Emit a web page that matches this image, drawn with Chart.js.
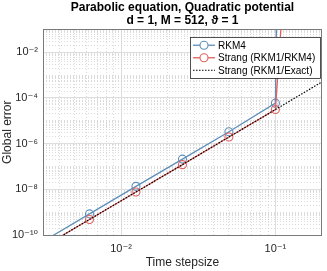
<!DOCTYPE html>
<html>
<head>
<meta charset="utf-8">
<script src="https://cdn.jsdelivr.net/npm/chart.js@4.4.0/dist/chart.umd.min.js"></script>
<style>
html, body { margin: 0; padding: 0; background: #fff; }
#wrap { width: 327px; height: 271px; }
</style>
</head>
<body>
<div id="wrap"><canvas id="errChart" width="327" height="271"></canvas></div>
<script>
// time step sizes and global errors
var steps = [0.003125, 0.00625, 0.0125, 0.025, 0.05, 0.1, 0.2];
var rkm4 = [5.2e-11, 8.4e-10, 1.35e-8, 2.1e-7, 3.3e-6, 5.9e-5, 1e150];
var strangRkm4 = [3.0e-11, 4.8e-10, 7.6e-9, 1.2e-7, 1.95e-6, 3.1e-5, 2e25];
var strangExact = [3.0e-11, 4.8e-10, 7.6e-9, 1.2e-7, 1.95e-6, 3.1e-5, 5.0e-4];

var xTickValues = [0.01, 0.1];
var xTickLabels = ['10⁻²', '10⁻¹'];
var yTickValues = [1e-10, 1e-8, 1e-6, 1e-4, 1e-2];
var yTickLabels = ['10⁻¹⁰', '10⁻⁸', '10⁻⁶', '10⁻⁴', '10⁻²'];
var titleLines = ['Parabolic equation, Quadratic potential', 'd = 1, M = 512, ϑ = 1'];

var xMin = 0.003125, xMax = 0.2;
var yMin = 1e-10, yMax = 1e-1;

function pts(ys) {
    return steps.map(function (s, i) { return {x: s, y: ys[i]}; });
}

// minor grid positions (k * 10^e) that are not major ticks
function minorTicks(lo, hi, majors) {
    var out = [];
    for (var e = Math.floor(Math.log10(lo)); e <= Math.ceil(Math.log10(hi)); e++) {
        for (var k = 1; k <= 9; k++) {
            var v = k * Math.pow(10, e);
            if (v <= lo * 1.0001 || v >= hi * 0.9999) continue;
            var isMajor = majors.some(function (m) { return Math.abs(v - m) / m < 1e-6; });
            if (!isMajor) out.push({value: v});
        }
    }
    return out;
}

var fontFam = "'Liberation Sans', Arial, 'DejaVu Sans', sans-serif";
Chart.defaults.font.family = fontFam;
Chart.defaults.color = '#262626';

var legendBox = {
    id: 'legendBox',
    afterDraw: function (chart) {
        var ctx = chart.ctx, area = chart.chartArea;
        var items = chart.data.datasets;
        ctx.save();
        ctx.font = '10px ' + fontFam;
        var textW = 0;
        items.forEach(function (ds) { textW = Math.max(textW, ctx.measureText(ds.label).width); });
        var rowH = 12.5, symW = 22;
        var w = Math.round(3 + symW + 3 + textW + 5);
        var h = Math.round(items.length * rowH + 3);
        var x0 = Math.round(area.right - 2 - w), y0 = Math.round(area.top + 8);
        ctx.fillStyle = '#fff';
        ctx.fillRect(x0, y0, w, h);
        ctx.strokeStyle = '#262626';
        ctx.lineWidth = 0.8;
        ctx.strokeRect(x0 + 0.5, y0 + 0.5, w, h);
        items.forEach(function (ds, i) {
            var cy = y0 + 2 + rowH * (i + 0.5);
            ctx.strokeStyle = ds.borderColor;
            ctx.lineWidth = ds.borderWidth;
            ctx.setLineDash(ds.borderDash || []);
            ctx.beginPath();
            ctx.moveTo(x0 + 3, cy);
            ctx.lineTo(x0 + 3 + symW, cy);
            ctx.stroke();
            ctx.setLineDash([]);
            if (ds.pointRadius > 0) {
                ctx.fillStyle = '#fff';
                ctx.beginPath();
                ctx.arc(x0 + 3 + symW / 2, cy, ds.pointRadius, 0, Math.PI * 2);
                ctx.fill();
                ctx.lineWidth = ds.pointBorderWidth;
                ctx.stroke();
            }
            ctx.fillStyle = '#000';
            ctx.textBaseline = 'middle';
            ctx.fillText(ds.label, x0 + 3 + symW + 3, cy + 0.5);
        });
        ctx.restore();
    }
};

var errChart = new Chart('errChart', {
    type: 'line',
    data: {
        datasets: [
            {
                label: 'RKM4',
                data: pts(rkm4),
                borderColor: '#5e8fba',
                backgroundColor: 'rgba(0,0,0,0)',
                borderWidth: 1.3,
                pointRadius: 4,
                pointBorderWidth: 1.1,
                pointBackgroundColor: 'rgba(0,0,0,0)',
                order: 3
            },
            {
                label: 'Strang (RKM1/RKM4)',
                data: pts(strangRkm4),
                borderColor: '#e0605e',
                backgroundColor: 'rgba(0,0,0,0)',
                borderWidth: 1.3,
                pointRadius: 4,
                pointBorderWidth: 1.1,
                pointBackgroundColor: 'rgba(0,0,0,0)',
                order: 2
            },
            {
                label: 'Strang (RKM1/Exact)',
                data: pts(strangExact),
                borderColor: '#000000',
                backgroundColor: 'rgba(0,0,0,0)',
                borderWidth: 1.2,
                borderDash: [1.5, 1.5],
                pointRadius: 0,
                order: 1
            }
        ]
    },
    options: {
        responsive: false,
        animation: false,
        layout: { padding: { left: 0, right: 3, top: 0, bottom: 0 } },
        plugins: {
            legend: { display: false },
            tooltip: { enabled: false },
            title: {
                display: true,
                fullSize: false,
                text: titleLines,
                color: '#000',
                font: { size: 12, weight: 'bold', lineHeight: 1.1 },
                padding: { top: 1, bottom: 2 }
            }
        },
        scales: {
            x: {
                type: 'logarithmic',
                position: 'bottom',
                min: xMin,
                max: xMax,
                afterBuildTicks: function (s) { s.ticks = xTickValues.map(function (v) { return {value: v}; }); },
                afterFit: function (s) { s.height = 36; },
                ticks: {
                    autoSkip: false,
                    maxRotation: 0,
                    padding: 7,
                    font: { size: 11 },
                    callback: function (v, i) { return xTickLabels[i]; }
                },
                grid: { color: '#dedede', lineWidth: 1, drawTicks: false },
                border: { color: '#7a7a7a', width: 1 },
                title: { display: true, text: 'Time stepsize', font: { size: 12 }, padding: { top: 0, bottom: 1 } }
            },
            y: {
                type: 'logarithmic',
                position: 'left',
                min: yMin,
                max: yMax,
                afterBuildTicks: function (s) { s.ticks = yTickValues.map(function (v) { return {value: v}; }); },
                afterFit: function (s) { s.width = 43; },
                ticks: {
                    autoSkip: false,
                    padding: 5,
                    font: { size: 11 },
                    callback: function (v, i) { return yTickLabels[i]; }
                },
                grid: { color: '#dedede', lineWidth: 1, drawTicks: false },
                border: { color: '#7a7a7a', width: 1 },
                title: { display: true, text: 'Global error', font: { size: 12 }, padding: { top: 0, bottom: 0 } }
            },
            x2: {
                type: 'logarithmic',
                position: 'top',
                min: xMin,
                max: xMax,
                afterBuildTicks: function (s) { s.ticks = minorTicks(xMin, xMax, xTickValues); },
                afterFit: function (s) { s.height = 0; },
                ticks: { display: false },
                grid: { color: '#d2d2d2', lineWidth: 0.8, drawTicks: false },
                border: { color: '#7a7a7a', width: 1, dash: [1, 2] }
            },
            y2: {
                type: 'logarithmic',
                position: 'right',
                min: yMin,
                max: yMax,
                afterBuildTicks: function (s) { s.ticks = minorTicks(yMin, yMax, yTickValues); },
                afterFit: function (s) { s.width = 0; },
                ticks: { display: false },
                grid: { color: '#d2d2d2', lineWidth: 0.8, drawTicks: false },
                border: { color: '#7a7a7a', width: 1, dash: [1, 2] }
            }
        }
    },
    plugins: [legendBox]
});
</script>
</body>
</html>
